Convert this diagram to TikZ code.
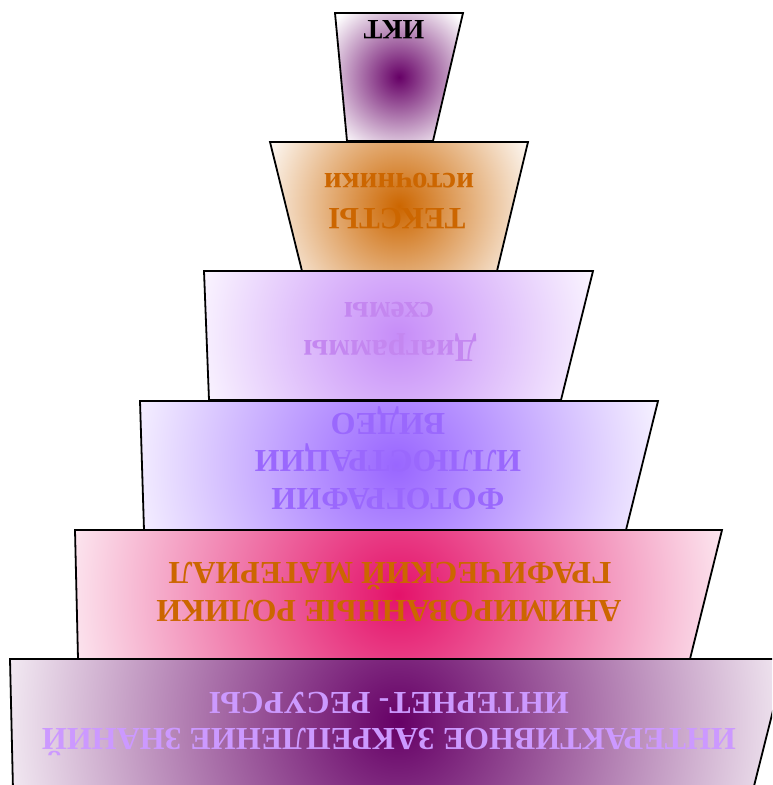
\documentclass[tikz,border=0pt]{standalone}
\usepackage{fontspec}
\setmainfont{Liberation Serif}
\definecolor{cA}{HTML}{660066}
\definecolor{cB}{HTML}{CC6600}
\definecolor{cC}{HTML}{C68CF8}
\definecolor{cD}{HTML}{9966FF}
\definecolor{cE}{HTML}{E4126A}
\definecolor{tC}{HTML}{C487F0}
\definecolor{tD}{HTML}{9A68FD}
\definecolor{tF}{HTML}{CC99FF}
\begin{document}
\begin{tikzpicture}[x=1pt,y=-1pt,
  lay/.style={draw=black,line width=1.8pt,line join=miter},
  lbl/.style={rotate=180,anchor=base,inner sep=0pt,text height=22pt,text depth=0pt,font=\bfseries\fontsize{32}{32}\selectfont}]
\useasboundingbox (0,0) rectangle (772,785);
\clip (0,0) rectangle (772,785);
% layers: circular gradient clipped by each trapezoid
\begin{scope}
  \clip (335,13) -- (463,13) -- (433,141) -- (347,141) -- cycle;
  \shade[inner color=cA,outer color=white] (399-85,77-85) rectangle (399+85,77+85);
\end{scope}
\draw[lay] (335,13) -- (463,13) -- (433,141) -- (347,141) -- cycle;
\begin{scope}
  \clip (270,142) -- (528,142) -- (497,271) -- (302,271) -- cycle;
  \shade[inner color=cB,outer color=white] (399-150,206-150) rectangle (399+150,206+150);
\end{scope}
\draw[lay] (270,142) -- (528,142) -- (497,271) -- (302,271) -- cycle;
\begin{scope}
  \clip (204,271) -- (593,271) -- (561,400) -- (209,400) -- cycle;
  \shade[inner color=cC,outer color=white] (398-225,336-225) rectangle (398+225,336+225);
\end{scope}
\draw[lay] (204,271) -- (593,271) -- (561,400) -- (209,400) -- cycle;
\begin{scope}
  \clip (140,401) -- (658,401) -- (626,530) -- (144,530) -- cycle;
  \shade[inner color=cD,outer color=white] (396-295,465-295) rectangle (396+295,465+295);
\end{scope}
\draw[lay] (140,401) -- (658,401) -- (626,530) -- (144,530) -- cycle;
\begin{scope}
  \clip (75,530) -- (722,530) -- (690,659) -- (78,659) -- cycle;
  \shade[inner color=cE,outer color=white] (398-370,595-370) rectangle (398+370,595+370);
\end{scope}
\draw[lay] (75,530) -- (722,530) -- (690,659) -- (78,659) -- cycle;
\begin{scope}
  \clip (10,659) -- (786,659) -- (753,790) -- (13,790) -- cycle;
  \shade[inner color=cA,outer color=white] (398-430,722-430) rectangle (398+430,722+430);
\end{scope}
\draw[lay] (10,659) -- (786,659) -- (753,790) -- (13,790) -- cycle;
% labels
\node[lbl,text height=18pt,font=\bfseries\fontsize{28}{28}\selectfont,text=black] (t1) at (394,20) {ИКТ};
\node[lbl,text height=14pt,font=\bfseries\fontsize{31}{31}\selectfont,text=cB] (t2a) at (399,173) {источники};
\node[lbl,font=\bfseries\fontsize{31}{31}\selectfont,text=cB] (t2b) at (397,208) {ТЕКСТЫ};
\node[lbl,text height=14pt,text=tC] (t3a) at (389,302) {схемы};
\node[lbl,text=tC] (t3b) at (390,340) {Диаграммы};
\node[lbl,text=tD] (t4a) at (388,413) {ВИДЕО};
\node[lbl,text=tD] (t4b) at (388,450) {ИЛЛЮСТРАЦИИ};
\node[lbl,text=tD] (t4c) at (388,488) {ФОТОГРАФИИ};
\node[lbl,text=cB] (t5a) at (390,562) {ГРАФИЧЕСКИЙ МАТЕРИАЛ};
\node[lbl,text=cB] (t5b) at (389,600) {АНИМИРОВАННЫЕ РОЛИКИ};
\node[lbl,text=tF] (t6a) at (389,692) {ИНТЕРНЕТ- РЕСУРСЫ};
\node[lbl,text=tF] (t6b) at (389,728) {ИНТЕРАКТИВНОЕ ЗАКРЕПЛЕНИЕ ЗНАНИЙ};
\end{tikzpicture}
\end{document}
